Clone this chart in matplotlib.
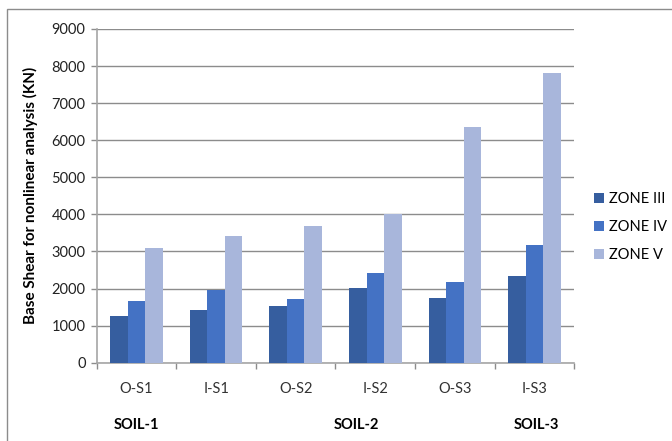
import matplotlib
matplotlib.use("Agg")
import matplotlib.pyplot as plt
import numpy as np
from matplotlib.patches import Rectangle

plt.rcParams['font.family'] = ['Lato', 'DejaVu Sans']

categories = ["O-S1", "I-S1", "O-S2", "I-S2", "O-S3", "I-S3"]
zone_iii = [1260, 1420, 1520, 2005, 1745, 2340]
zone_iv = [1655, 1970, 1718, 2428, 2177, 3183]
zone_v = [3094, 3418, 3688, 4003, 6350, 7823]
series_names = ["ZONE III", "ZONE IV", "ZONE V"]
soil_labels = ["SOIL-1", "SOIL-2", "SOIL-3"]
soil_positions = [0, 2.76, 5.02]
yticks = [0, 1000, 2000, 3000, 4000, 5000, 6000, 7000, 8000, 9000]

colors = ["#365E9F", "#4472C4", "#A8B6DB"]

W, H = 672, 441
fig = plt.figure(figsize=(W / 100, H / 100), dpi=100)
ax = fig.add_axes([96.7 / W, 1 - 362.7 / H, (574.3 - 96.7) / W, (362.7 - 29) / H])

x = np.arange(len(categories))
bw = 0.22
for i, (vals, name) in enumerate(zip([zone_iii, zone_iv, zone_v], series_names)):
    ax.bar(x + (i - 1) * bw, vals, width=bw, color=colors[i], label=name,
           zorder=3, linewidth=0)

ax.set_xlim(-0.5, len(categories) - 0.5)
ax.set_ylim(0, 9000)
ax.set_yticks(yticks)
ax.set_yticklabels([str(v) for v in yticks], fontsize=10.5, color="#222222")
ax.yaxis.grid(True, color="#8C8C8C", linewidth=1.0, zorder=0)
ax.set_axisbelow(True)

ax.set_xticks(x)
ax.set_xticklabels(categories, fontsize=10.5, color="#333333")
ax.tick_params(axis='x', length=0, pad=14)
ax.set_xticks(np.arange(-0.5, len(categories)), minor=True)
ax.tick_params(axis='x', which='minor', length=4, color="#8C8C8C", width=1)
ax.tick_params(axis='y', length=4, color="#8C8C8C", width=1, pad=4)

for s in ["top", "right"]:
    ax.spines[s].set_visible(False)
for s in ["left", "bottom"]:
    ax.spines[s].set_color("#A6A6A6")
    ax.spines[s].set_linewidth(1.2)

ax.set_ylabel("Base Shear for nonlinear analysis (KN)", fontsize=11,
              fontweight="bold")
ax.yaxis.set_label_coords((38 - 96.7) / (574.3 - 96.7), 0.5)

# soil group labels below the category axis
for lab, pos in zip(soil_labels, soil_positions):
    ax.annotate(lab, xy=(pos, 0), xycoords=('data', 'axes fraction'),
                xytext=(0, -(425 - 362.7) * 0.72), textcoords='offset points',
                ha='center', va='center', fontsize=10.5, fontweight='bold')

leg = ax.legend(loc='center left', bbox_to_anchor=(594 / W, 1 - 227 / H),
                bbox_transform=fig.transFigure, frameon=False,
                fontsize=10.5, handlelength=0.7, handleheight=0.7,
                handletextpad=0.3, labelspacing=0.95, borderaxespad=0,
                borderpad=0)

fig.patches.append(Rectangle((7 / W, -0.1), 1.2, (H - 9) / H + 0.1,
                             transform=fig.transFigure, fill=False,
                             edgecolor="#8C8C8C", linewidth=1.0))

fig.savefig("out.png", dpi=100)
